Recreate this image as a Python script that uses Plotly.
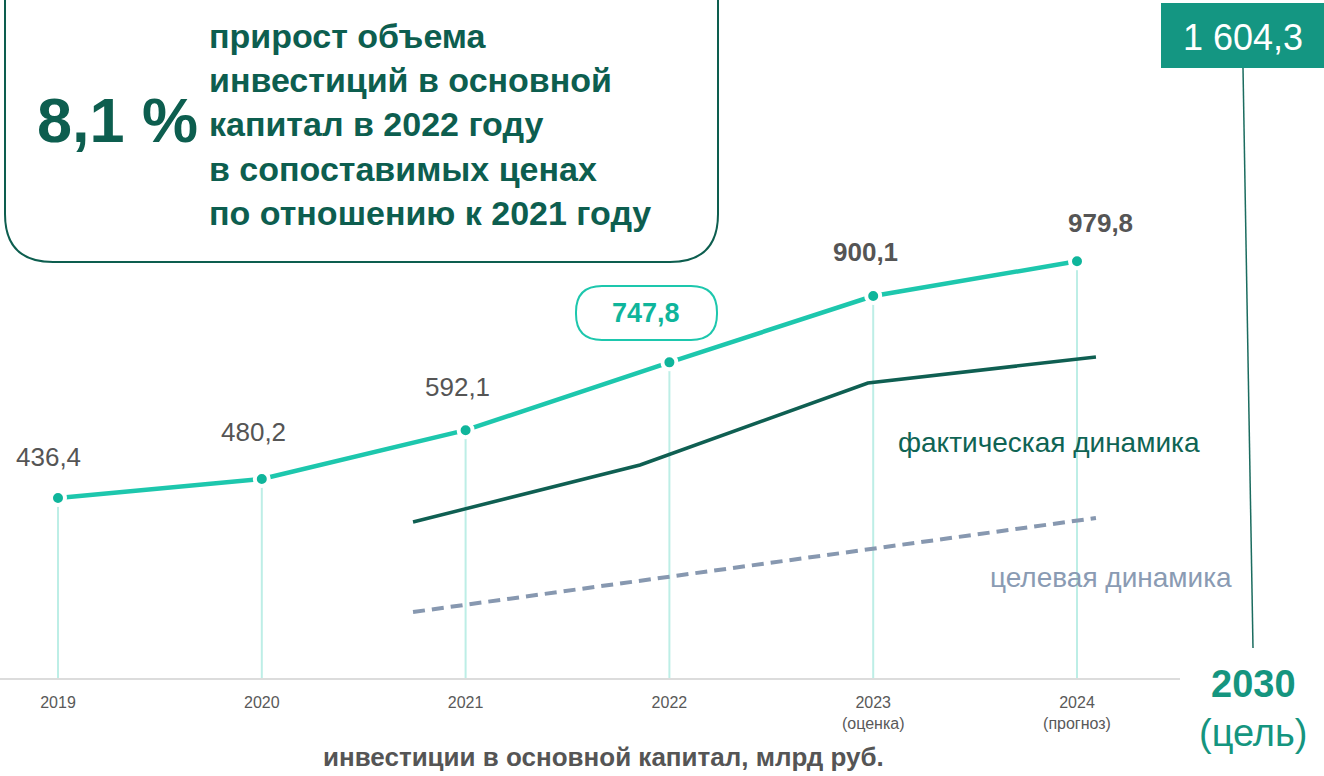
import plotly.graph_objects as go

# ---- data ----
years = [2019, 2020, 2021, 2022, 2023, 2024]
invest = [436.4, 480.2, 592.1, 747.8, 900.1, 979.8]
invest_labels = ["436,4", "480,2", "592,1", "747,8", "900,1", "979,8"]
tick_text = ["2019", "2020", "2021", "2022",
             "2023<br>(оценка)", "2024<br>(прогноз)"]

fact_x = [2020.742, 2021.856, 2022.974, 2024.093]
fact_y = [381.3, 512.2, 700.4, 760.1]
target_x = [2020.742, 2024.093]
target_y = [174.7, 390.5]

goal_value = "1 604,3"
goal_year = "2030"

W, H = 1324, 776
FONT = "Liberation Sans"
DARK = "#0d5e4f"
TEAL = "#1dc7ad"
TEAL_DOT = "#0fb59b"
GOAL = "#15957f"
GREY = "#595959"


def px(x):
    return x / W


def py(y):
    return 1 - y / H


def rounded_path(x0, y0, x1, y1, r):
    pts = [
        ("M", [(x0 + r, y0)]),
        ("L", [(x1 - r, y0)]),
        ("Q", [(x1, y0), (x1, y0 + r)]),
        ("L", [(x1, y1 - r)]),
        ("Q", [(x1, y1), (x1 - r, y1)]),
        ("L", [(x0 + r, y1)]),
        ("Q", [(x0, y1), (x0, y1 - r)]),
        ("L", [(x0, y0 + r)]),
        ("Q", [(x0, y0), (x0 + r, y0)]),
    ]
    s = ""
    for cmd, ps in pts:
        s += cmd + " " + " ".join(f"{px(a):.5f},{py(b):.5f}" for a, b in ps) + " "
    return s + "Z"


fig = go.Figure()

# vertical drop lines
for x, v in zip(years, invest):
    fig.add_shape(type="line", xref="x", yref="y", x0=x, x1=x, y0=0, y1=v,
                  line=dict(color="#bdeee6", width=2), layer="below")

fig.add_trace(go.Scatter(x=target_x, y=target_y, mode="lines",
                         line=dict(color="#8798b0", width=4, dash="12px,7px"),
                         hoverinfo="skip"))
fig.add_trace(go.Scatter(x=fact_x, y=fact_y, mode="lines",
                         line=dict(color="#0f5f52", width=3.5),
                         hoverinfo="skip"))
fig.add_trace(go.Scatter(x=years, y=invest, mode="lines+markers",
                         line=dict(color=TEAL, width=4.5),
                         marker=dict(size=14, color=TEAL_DOT,
                                     line=dict(color="white", width=4)),
                         hoverinfo="skip"))

# value labels
offsets = [(-10, 41), (-8, 47), (-8, 43), (-23, 49), (-8, 44), (23, 38)]
for i, (x, v, lab) in enumerate(zip(years, invest, invest_labels)):
    dx, dy = offsets[i]
    if i < 3:
        f = dict(family=FONT, size=26, color="#555555")
        t = lab
    elif i == 3:
        f = dict(family=FONT, size=27, color=TEAL_DOT)
        t = "<b>" + lab + "</b>"
    else:
        f = dict(family=FONT, size=26, color="#555555")
        t = "<b>" + lab + "</b>"
    fig.add_annotation(x=x, y=v, xref="x", yref="y", text=t, showarrow=False,
                       xshift=dx, yshift=dy, font=f)

shapes = []
# pill around 747,8
shapes.append(dict(type="path", xref="paper", yref="paper",
                   path=rounded_path(576, 286, 717, 340, 26),
                   line=dict(color=TEAL, width=2)))
# top-left info box
shapes.append(dict(type="path", xref="paper", yref="paper",
                   path=rounded_path(5, -60, 718, 262, 48),
                   line=dict(color=DARK, width=2)))
# goal box
shapes.append(dict(type="rect", xref="paper", yref="paper",
                   x0=px(1161), x1=px(1326), y0=py(68), y1=py(3),
                   fillcolor="#149682", line=dict(width=0)))
shapes.append(dict(type="line", xref="paper", yref="paper",
                   x0=px(1243), y0=py(68), x1=px(1253), y1=py(648),
                   line=dict(color="#1b6c5f", width=1.5)))
for s in shapes:
    fig.add_shape(**s)

ann = [
    dict(x=px(117), y=py(120), text="<b>8,1 %</b>",
         font=dict(family=FONT, size=63, color=DARK)),
    dict(x=px(207), y=py(125), xanchor="left", align="left",
         text="<b>прирост объема<br>инвестиций в основной<br>капитал в 2022 году"
              "<br>в сопоставимых ценах<br>по отношению к 2021 году</b>",
         font=dict(family=FONT, size=34, color=DARK)),
    dict(x=px(896), y=py(442), xanchor="left", text="фактическая динамика",
         font=dict(family=FONT, size=28, color="#0f6454")),
    dict(x=px(988), y=py(577), xanchor="left", text="целевая динамика",
         font=dict(family=FONT, size=28, color="#8a9bb3")),
    dict(x=px(1243), y=py(37), text=goal_value,
         font=dict(family=FONT, size=36, color="white")),
    dict(x=px(1253), y=py(684), text="<b>" + goal_year + "</b>",
         font=dict(family=FONT, size=38, color=GOAL)),
    dict(x=px(1253), y=py(733), text="(цель)",
         font=dict(family=FONT, size=38, color=GOAL)),
    dict(x=px(603), y=py(757), text="<b>инвестиции в основной капитал, млрд руб.</b>",
         font=dict(family=FONT, size=26, color="#555555")),
]
for a in ann:
    a.setdefault("xanchor", "center")
    fig.add_annotation(xref="paper", yref="paper", showarrow=False,
                       yanchor="middle", **a)

fig.update_layout(
    width=W, height=H,
    margin=dict(l=0, r=0, t=0, b=0),
    paper_bgcolor="white", plot_bgcolor="white",
    showlegend=False,
    xaxis=dict(domain=[0, 1180 / W], range=[2018.7154, 2024.5054],
               tickvals=years, ticktext=tick_text,
               showgrid=False, zeroline=False,
               showline=True, linecolor="#dcdcdc", linewidth=2,
               ticks="", ticklabelstandoff=9,
               tickfont=dict(family=FONT, size=16, color=GREY)),
    yaxis=dict(domain=[98 / H, 1], range=[23.2, 1579.6],
               visible=False, showgrid=False, zeroline=False),
)

fig.write_html("out.html", config={"displayModeBar": False},
               post_script="document.body.style.margin='0';document.body.style.overflow='hidden';")
